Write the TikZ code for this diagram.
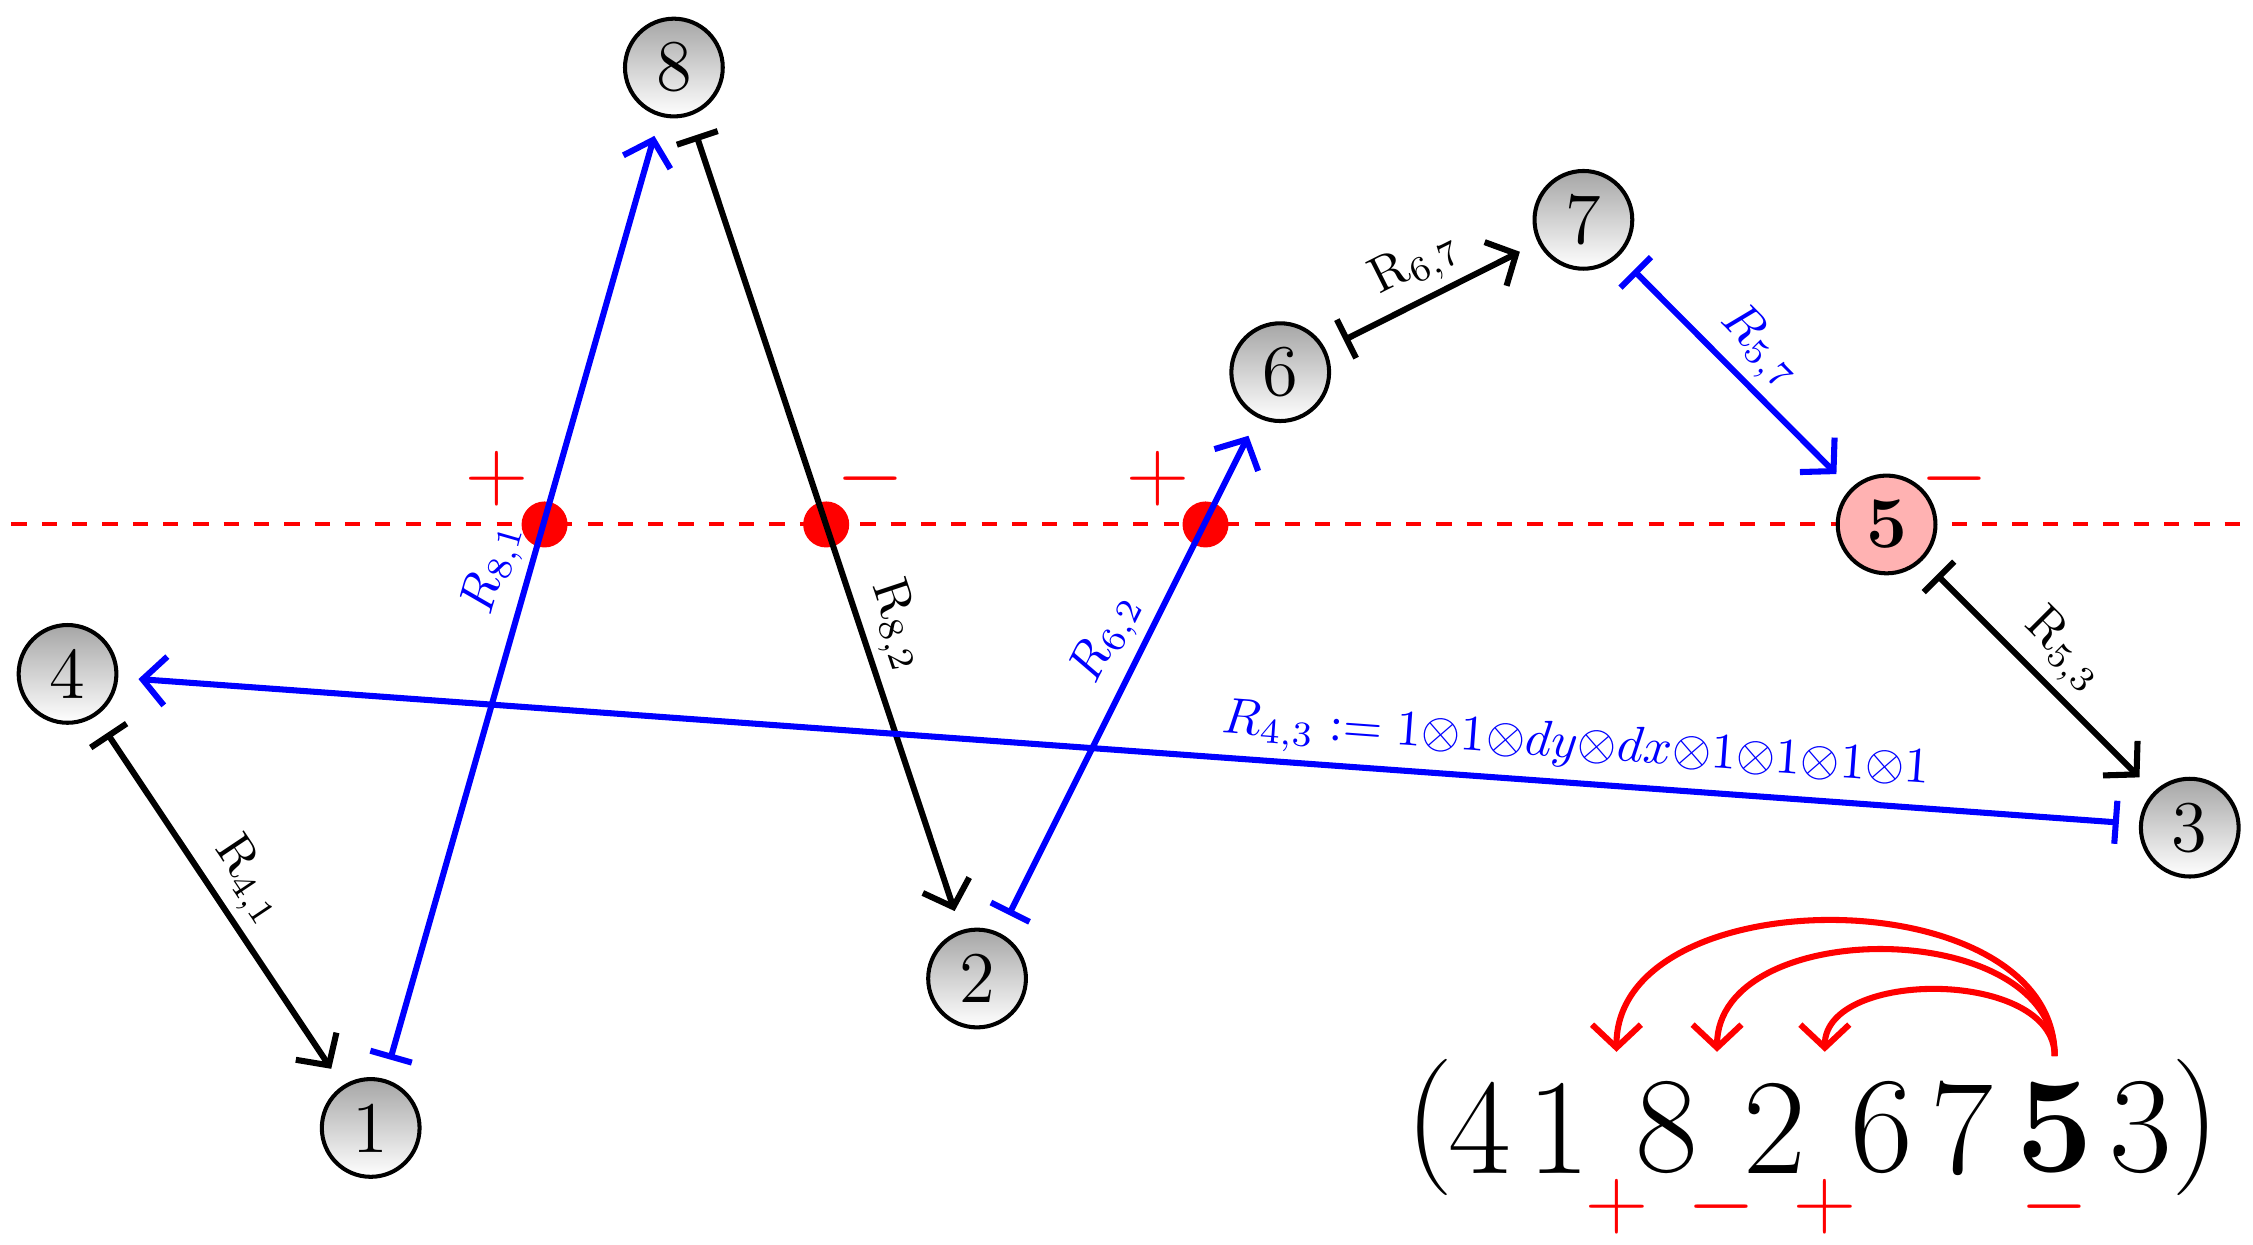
\documentclass[tikz,border=0pt]{standalone}
\usetikzlibrary{arrows.meta}
\begin{document}
\begin{tikzpicture}[x=0.01cm,y=-0.01cm,
  ball/.style={circle,draw=black,thick,minimum size=0.68cm,inner sep=0pt,top color=gray!70,bottom color=white,font=\Large},
  edge/.style={line width=1.2pt,{Bar[width=3mm,line width=1.2pt]}-{Straight Barb[length=1.6mm,width=3.4mm,line width=1.2pt]},shorten <=4pt,shorten >=4pt},
  redge/.style={line width=1.2pt,{Straight Barb[length=1.6mm,width=3.4mm,line width=1.2pt]}-{Bar[width=3mm,line width=1.2pt]},shorten <=4pt,shorten >=4pt},
  lab/.style={midway,sloped,above,inner sep=1.5pt,font=\normalsize},
  dot/.style={circle,fill=red,inner sep=0pt,minimum size=0.32cm},
  sgn/.style={red,font=\LARGE,inner sep=0pt}]
\useasboundingbox (0,0) rectangle (1568,866);
\draw[red,dashed,thick] (8,365) -- (1560,365);
\node[ball] (n8) at (469,47) {8};
\node[ball] (n7) at (1102,153) {7};
\node[ball] (n6) at (891,259) {6};
\node[ball,top color=red!30,bottom color=red!30,font=\Large\bfseries] (n5) at (1313,365) {5};
\node[ball] (n4) at (47,469) {4};
\node[ball] (n3) at (1524,576) {3};
\node[ball] (n2) at (680,681) {2};
\node[ball] (n1) at (258,785) {1};
\node[dot] (d1) at (379,365) {};
\node[dot] (d2) at (575,365) {};
\node[dot] (d3) at (839,365) {};
\node[sgn] (s1) at (346,333) {$+$};
\node[sgn] (s2) at (606,333) {$-$};
\node[sgn] (s3) at (806,333) {$+$};
\node[sgn] (s4) at (1360,333) {$-$};
\draw[edge] (n4) -- node[lab]{$\mathrm{R}_{4,1}$} (n1);
\draw[edge,blue] (n1) -- node[lab,pos=0.52]{$R_{8,1}$} (n8);
\draw[edge] (n8) -- node[lab,pos=0.64]{$\mathrm{R}_{8,2}$} (n2);
\draw[edge,blue] (n2) -- node[lab,pos=0.54]{$R_{6,2}$} (n6);
\draw[edge] (n6) -- node[lab]{$\mathrm{R}_{6,7}$} (n7);
\draw[edge,blue] (n7) -- node[lab]{$R_{5,7}$} (n5);
\draw[edge] (n5) -- node[lab]{$\mathrm{R}_{5,3}$} (n3);
\draw[redge,blue] (n4) -- node[lab,pos=0.72]{$R_{4,3}:=1{\otimes}1{\otimes}dy{\otimes}dx{\otimes}1{\otimes}1{\otimes}1{\otimes}1$} (n3);
\begin{scope}[font=\fontsize{27}{27}\selectfont,inner sep=0pt]
\node (pl) at (995,785) {(};
\node (p4) at (1030,785) {4};
\node (p1) at (1085,785) {1};
\node (p8) at (1160,785) {8};
\node (p2) at (1235,785) {2};
\node (p6) at (1310,785) {6};
\node (p7) at (1365,785) {7};
\node (p5) at (1430,785) {\bfseries 5};
\node (p3) at (1490,785) {3};
\node (pr) at (1528,785) {)};
\end{scope}
\node[sgn] (b1) at (1125,840) {$+$};
\node[sgn] (b2) at (1198,840) {$-$};
\node[sgn] (b3) at (1270,840) {$+$};
\node[sgn] (b4) at (1430,840) {$-$};
\coordinate (a0) at (1430,735);
\coordinate (a1) at (1125,732);
\coordinate (a2) at (1195,732);
\coordinate (a3) at (1270,732);
\begin{scope}[red,line width=1.2pt,-{Straight Barb[length=1.6mm,width=3.4mm,line width=1.2pt]}]
\draw (a0) .. controls (1430,610) and (1125,610) .. (a1);
\draw (a0) .. controls (1430,637) and (1195,637) .. (a2);
\draw (a0) .. controls (1430,674) and (1270,674) .. (a3);
\end{scope}
\end{tikzpicture}
\end{document}
